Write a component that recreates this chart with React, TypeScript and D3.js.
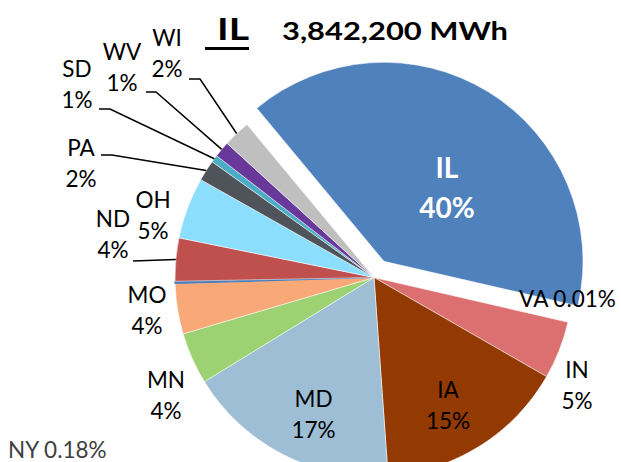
import React from 'react';
import * as d3 from 'd3';

// ---- data ----
const states = ['IL', 'VA', 'IN', 'IA', 'MD', 'MN', 'MO', 'NY', 'ND', 'OH', 'PA', 'SD', 'WV', 'WI'];
const shares = [39.7, 0.01, 4.7, 15.6, 17.4, 4.2, 4.1, 0.18, 3.5, 5.0, 1.7, 0.6, 1.3, 2.2];
const pctLabels = ['40%', '0.01%', '5%', '15%', '17%', '4%', '4%', '0.18%', '4%', '5%', '2%', '1%', '1%', '2%'];
const sliceColors = [
  '#4F81BD', '#C0504D', '#DC6F6F', '#933A03', '#9DBED5', '#9DD273', '#F9A977',
  '#4A7EBB', '#C0504D', '#8CDEFE', '#4E5459', '#4BACC6', '#68389A', '#BFBFBF',
];
const titleState = 'IL';
const titleTotal = '3,842,200 MWh';

// ---- layout ----
const W = 621;
const H = 462;
const CX = 374;
const CY = 277.5;
const R = 199;
const START_DEG = 320.3;
const EXPLODE = 19;
const FONT = 'Lato, "Open Sans", sans-serif';

// label layout relative to pie centre: [dx of text centre, dy of first baseline]
type LL = {
  dx: number;
  dy: number;
  mode: 'two' | 'one' | 'oneStart';
  leader?: { sx: number; sy: number; knee: number };
  bold?: boolean;
  color?: string;
  gap?: number;
  size?: number;
};
const labelLayout: Record<string, LL> = {
  IL: { dx: 73, dy: -99.5, mode: 'two', bold: true, color: '#fff', gap: 40, size: 28 },
  VA: { dx: 193.5, dy: 29.5, mode: 'one' },
  IN: { dx: 203, dy: 100.5, mode: 'two' },
  IA: { dx: 74, dy: 120.5, mode: 'two' },
  MD: { dx: -60.5, dy: 129.5, mode: 'two' },
  MN: { dx: -208, dy: 110.5, mode: 'two' },
  MO: { dx: -227, dy: 25.5, mode: 'two' },
  NY: { dx: -366, dy: 180.5, mode: 'oneStart', color: '#404040' },
  ND: { dx: -261, dy: -50.5, mode: 'two', leader: { sx: 20, sy: 34, knee: 0 } },
  OH: { dx: -221, dy: -69.5, mode: 'two' },
  PA: { dx: -293, dy: -121.5, mode: 'two', leader: { sx: 20, sy: -1, knee: 11 } },
  SD: { dx: -297, dy: -200.5, mode: 'two', leader: { sx: 22, sy: 32, knee: 11 } },
  WV: { dx: -252, dy: -217.5, mode: 'two', leader: { sx: 24, sy: 32, knee: 10 } },
  WI: { dx: -207, dy: -231.5, mode: 'two', leader: { sx: 22, sy: 33, knee: 11 } },
};

type Row = { state: string; value: number; pct: string; color: string };
const rows: Row[] = states.map((s, i) => ({ state: s, value: shares[i], pct: pctLabels[i], color: sliceColors[i] }));

export default function App() {
  const start = (START_DEG * Math.PI) / 180;
  const pie = d3
    .pie<Row>()
    .sort(null)
    .value((d) => d.value)
    .startAngle(start)
    .endAngle(start + 2 * Math.PI);
  const arcs = pie(rows);
  const arc = d3.arc<d3.PieArcDatum<Row>>().innerRadius(0).outerRadius(R);

  const polar = (a: number, r: number): [number, number] => [Math.sin(a) * r, -Math.cos(a) * r];

  return (
    <svg
      width={W}
      height={H}
      style={{ position: 'absolute', left: 0, top: 0, background: '#fff' }}
      fontFamily={FONT}
    >
      <rect x={0} y={0} width={W} height={H} fill="#fff" />
      <g transform={`translate(${CX},${CY})`}>
        {arcs.map((a, i) => {
          const mid = (a.startAngle + a.endAngle) / 2;
          const [ox, oy] = a.data.state === 'IL' ? polar(mid, EXPLODE) : [0, 0];
          return (
            <path
              key={i}
              d={arc(a) || ''}
              transform={`translate(${ox},${oy})`}
              fill={a.data.color}
              stroke={a.data.state === 'NY' ? a.data.color : '#ffffff'}
              strokeWidth={a.data.state === 'NY' ? 1.2 : 0.5}
            />
          );
        })}
        {arcs.map((a, i) => {
          const L = labelLayout[a.data.state];
          if (!L) return null;
          const mid = (a.startAngle + a.endAngle) / 2;
          const size = L.size ?? 22.5;
          const fill = L.color ?? '#000';
          const weight = L.bold ? 700 : 400;
          const gap = L.gap ?? 31;
          const els: React.ReactNode[] = [];
          if (L.mode === 'two') {
            els.push(
              <text key="a" x={L.dx} y={L.dy} textAnchor="middle" fontSize={size} fill={fill} fontWeight={weight}>
                {a.data.state}
              </text>,
              <text key="b" x={L.dx} y={L.dy + gap} textAnchor="middle" fontSize={size} fill={fill} fontWeight={weight}>
                {a.data.pct}
              </text>
            );
          } else {
            els.push(
              <text
                key="a"
                x={L.dx}
                y={L.dy}
                textAnchor={L.mode === 'one' ? 'middle' : 'start'}
                fontSize={size}
                fill={fill}
                fontWeight={weight}
              >
                {`${a.data.state} ${a.data.pct}`}
              </text>
            );
          }
          if (L.leader) {
            const [ex, ey] = polar(mid, R);
            const sx = L.dx + L.leader.sx;
            const sy = L.dy + L.leader.sy;
            const pts: [number, number][] = [
              [sx, sy],
              [sx + L.leader.knee, sy],
              [ex, ey],
            ];
            els.push(
              <path
                key="l"
                d={d3.line()(pts) || ''}
                fill="none"
                stroke="#000"
                strokeWidth={1.5}
              />
            );
          }
          return <g key={i}>{els}</g>;
        })}
      </g>
      <text x={217} y={40} fontSize={31} fontWeight={700} fill="#000" textLength={32} lengthAdjust="spacingAndGlyphs">
        {titleState}
      </text>
      <line x1={205} x2={249} y1={48.5} y2={48.5} stroke="#000" strokeWidth={3} />
      <text x={282} y={40} fontSize={25} fontWeight={700} fill="#000" textLength={226} lengthAdjust="spacingAndGlyphs">
        {titleTotal}
      </text>
    </svg>
  );
}
